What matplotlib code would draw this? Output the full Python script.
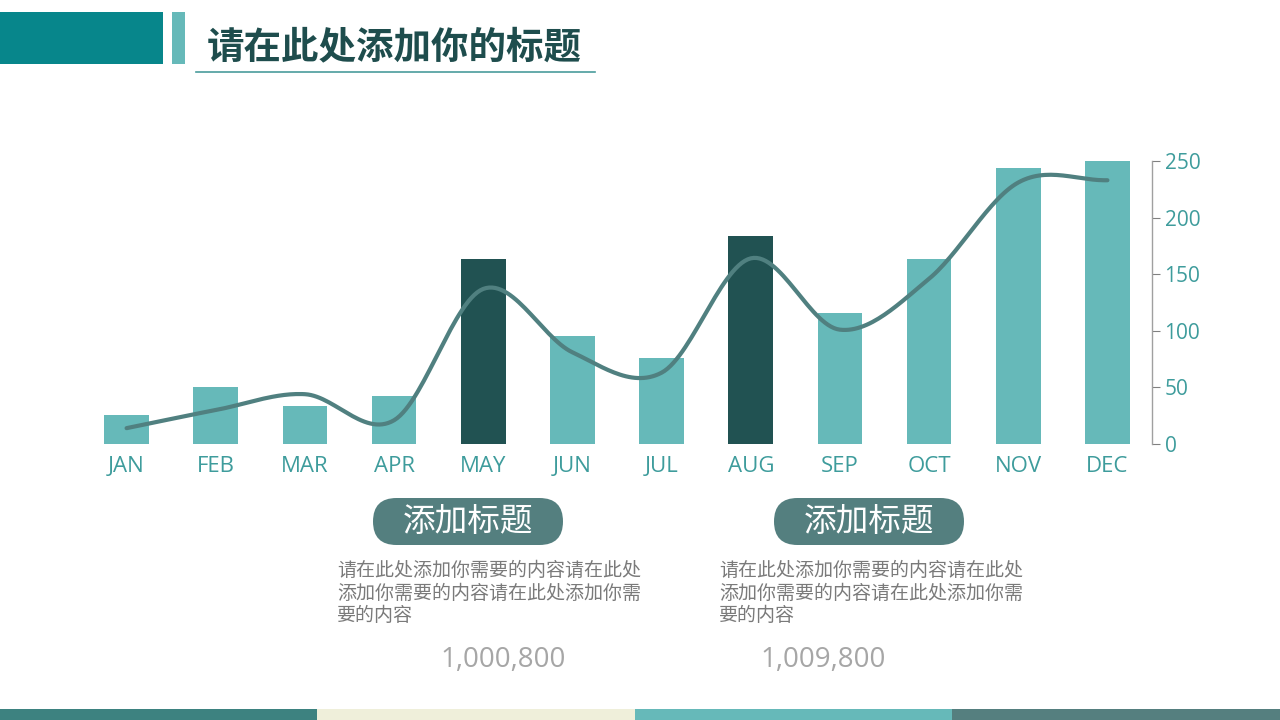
import numpy as np
import matplotlib
matplotlib.use('Agg')
import matplotlib.pyplot as plt
from matplotlib.patches import Rectangle, FancyBboxPatch

# Data
months = ['JAN', 'FEB', 'MAR', 'APR', 'MAY', 'JUN', 'JUL', 'AUG', 'SEP', 'OCT', 'NOV', 'DEC']
bar_values = [26, 50, 34, 42, 163, 95, 76, 184, 116, 163, 244, 250]
line_values = [14, 30, 44, 21, 137, 81, 63, 164, 101, 146, 231, 233]
highlight = ['MAY', 'AUG']
y_ticks = [0, 50, 100, 150, 200, 250]

title = '请在此处添加你的标题'
card_titles = ['添加标题', '添加标题']
card_body = ['请在此处添加你需要的内容请在此处\n添加你需要的内容请在此处添加你需\n要的内容',
             '请在此处添加你需要的内容请在此处\n添加你需要的内容请在此处添加你需\n要的内容']
card_numbers = ['1,000,800', '1,009,800']

LIGHT = '#66B9B9'
DARK = '#215252'
LINE = '#508080'
TEAL_TXT = '#3E9C9C'
CJK = ['Noto Sans CJK SC', 'DejaVu Sans']

W, H = 1280, 720
fig = plt.figure(figsize=(12.8, 7.2), dpi=100)
fig.patch.set_facecolor('white')


def px(x0, y0, x1, y1):
    # pixel box -> figure fraction [left, bottom, width, height]
    return [x0 / W, 1 - y1 / H, (x1 - x0) / W, (y1 - y0) / H]


# chart area
ax = fig.add_axes(px(82, 161, 1152, 444))
x = np.arange(len(months))
colors = [DARK if m in highlight else LIGHT for m in months]
ax.bar(x, bar_values, width=0.5, color=colors, zorder=2)


def catmull_rom(xs, ys, n=30):
    # smooth rendering of the line through the data points
    xs = np.asarray(xs, float)
    ys = np.asarray(ys, float)
    px_ = np.concatenate([[2 * xs[0] - xs[1]], xs, [2 * xs[-1] - xs[-2]]])
    py_ = np.concatenate([[2 * ys[0] - ys[1]], ys, [2 * ys[-1] - ys[-2]]])
    outx, outy = [], []
    t = np.linspace(0, 1, n, endpoint=False)
    for i in range(1, len(px_) - 2):
        for arr, out in ((px_, outx), (py_, outy)):
            p0, p1, p2, p3 = arr[i - 1], arr[i], arr[i + 1], arr[i + 2]
            out.extend(0.5 * (2 * p1 + (-p0 + p2) * t + (2 * p0 - 5 * p1 + 4 * p2 - p3) * t ** 2
                              + (-p0 + 3 * p1 - 3 * p2 + p3) * t ** 3))
    outx.append(xs[-1])
    outy.append(ys[-1])
    return np.array(outx), np.array(outy)


sx, sy = catmull_rom(x, line_values)
ax.plot(sx, sy, color=LINE, lw=3, solid_capstyle='round', zorder=3)

ax.set_xlim(-0.5, len(months) - 0.5)
ax.set_ylim(0, 250)
for s in ['top', 'left', 'bottom']:
    ax.spines[s].set_visible(False)
ax.spines['right'].set_color('#A0A0A0')
ax.spines['right'].set_linewidth(1)
ax.yaxis.tick_right()
ax.set_yticks(y_ticks)
ax.set_yticklabels([str(v) for v in y_ticks], fontsize=15, color=TEAL_TXT, family='Open Sans')
ax.tick_params(axis='y', direction='out', length=6, color='#808080', pad=3)
ax.set_xticks(x)
ax.set_xticklabels(months, fontsize=16, color=TEAL_TXT, family='Open Sans')
ax.tick_params(axis='x', length=0, pad=9)
ax.patch.set_alpha(0)

# overlay for decorations
deco = fig.add_axes([0, 0, 1, 1])
deco.set_xlim(0, W)
deco.set_ylim(H, 0)
deco.axis('off')
deco.patch.set_alpha(0)

# header
deco.add_patch(Rectangle((0, 12), 163, 52, color='#07868B', lw=0))
deco.add_patch(Rectangle((172, 12), 13, 52, color=LIGHT, lw=0))
deco.text(207, 47, title, fontsize=27, fontweight='bold', color='#1E4D4D',
          family=CJK, va='center', ha='left')
deco.plot([196, 595], [71.5, 71.5], color='#4A9C9C', lw=1.2)

# cards
pill_x = [373, 774]
body_x = [337, 719]
num_x = [503, 823]
for pxl, bx, nx, ct, body, num in zip(pill_x, body_x, num_x, card_titles, card_body, card_numbers):
    deco.add_patch(FancyBboxPatch((pxl, 498), 190, 47,
                                  boxstyle='round,pad=0,rounding_size=23.5',
                                  color='#547F7F', lw=0))
    deco.text(pxl + 95, 522, ct, fontsize=23.5, color='white', family=CJK,
              ha='center', va='center')
    deco.text(bx, 560, body, fontsize=13.7, color='#7A7A7A', family=CJK,
              ha='left', va='top', linespacing=1.1)
    deco.text(nx, 660, num, fontsize=20, color='#A6A6A6', family='Open Sans',
              ha='center', va='center')

# bottom band
band_colors = ['#3D8280', '#EFEFDA', '#66B9B9', '#557F7F']
band_edges = [0, 317, 635, 952, 1280]
for i, c in enumerate(band_colors):
    deco.add_patch(Rectangle((band_edges[i], 709), band_edges[i + 1] - band_edges[i], 11,
                             color=c, lw=0))

fig.savefig('out.png', dpi=100, facecolor='white')
